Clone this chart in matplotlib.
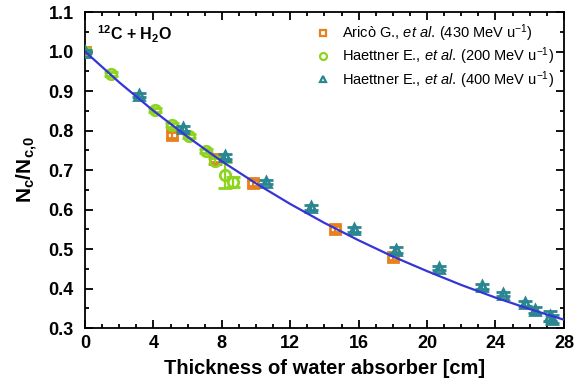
import matplotlib
matplotlib.use("Agg")
import matplotlib.pyplot as plt
from matplotlib.ticker import MultipleLocator
from matplotlib.lines import Line2D

plt.rcParams['font.family'] = ['Liberation Sans', 'DejaVu Sans']
plt.rcParams['mathtext.fontset'] = 'custom'
plt.rcParams['mathtext.rm'] = 'Liberation Sans'
plt.rcParams['mathtext.it'] = 'Liberation Sans:italic'
plt.rcParams['mathtext.bf'] = 'Liberation Sans:bold'

# Aricò G. et al. (430 MeV/u)
arico_x = [0.0, 5.1, 7.6, 9.8, 14.6, 18.0]
arico_y = [1.0, 0.789, 0.728, 0.667, 0.550, 0.480]
arico_err = [0.005, 0.008, 0.008, 0.008, 0.008, 0.008]

# Haettner E. et al. (200 MeV/u)
h200_x = [0.0, 1.5, 4.1, 5.1, 6.1, 7.1, 7.6, 8.2, 8.65]
h200_y = [1.0, 0.943, 0.852, 0.814, 0.787, 0.748, 0.722, 0.687, 0.670]
h200_err = [0.004, 0.005, 0.005, 0.005, 0.005, 0.006, 0.008, 0.033, 0.012]

# Haettner E. et al. (400 MeV/u)
h400_x = [0.0, 3.16, 5.7, 8.2, 10.6, 13.2, 15.7, 18.2, 20.7, 23.2, 24.45, 25.7, 26.3, 27.2, 27.3]
h400_y = [1.0, 0.890, 0.806, 0.735, 0.670, 0.606, 0.550, 0.497, 0.452, 0.406, 0.386, 0.363, 0.345, 0.330, 0.322]
h400_err = [0.004, 0.006, 0.006, 0.006, 0.006, 0.006, 0.006, 0.008, 0.006, 0.006, 0.006, 0.006, 0.008, 0.012, 0.010]

# fitted curve
fit_x = [0, 2, 4, 6, 8, 10, 12, 14, 16, 18, 20, 22, 24, 26, 28]
fit_y = [1.0, 0.922, 0.850, 0.784, 0.722, 0.666, 0.614, 0.566, 0.522, 0.481, 0.444, 0.409, 0.377, 0.348, 0.321]

labels = ['Aricò G., $\\it{et}$ $\\it{al.}\\,$(430 MeV u$^{-1}$)',
          'Haettner E., $\\it{et}$ $\\it{al.}\\,$(200 MeV u$^{-1}$)',
          'Haettner E., $\\it{et}$ $\\it{al.}\\,$(400 MeV u$^{-1}$)']

fig = plt.figure(figsize=(5.76, 3.88), dpi=100)
ax = fig.add_axes([0.1476, 0.1546, 0.8314, 0.8144])

c_or = '#E8801E'
c_gr = '#8CD41E'
c_te = '#2A8690'

ax.plot(fit_x, fit_y, color='#3535D5', lw=1.6, zorder=5)

ax.errorbar(arico_x, arico_y, yerr=arico_err, fmt='s', ms=6.5, mfc='none', mec=c_or,
            mew=2.0, ecolor=c_or, elinewidth=1.6, capsize=4, capthick=1.6, zorder=3)
ax.errorbar(h200_x, h200_y, yerr=h200_err, fmt='o', ms=7.5, mfc='none', mec=c_gr,
            mew=2.0, ecolor=c_gr, elinewidth=1.6, capsize=5, capthick=1.6, zorder=3)
ax.errorbar(h400_x, h400_y, yerr=h400_err, fmt='^', ms=7.5, mfc='none', mec=c_te,
            mew=2.0, ecolor=c_te, elinewidth=1.6, capsize=5, capthick=1.6, zorder=4)

ax.set_xlim(0, 28)
ax.set_ylim(0.3, 1.1)
ax.xaxis.set_major_locator(MultipleLocator(4))
ax.xaxis.set_minor_locator(MultipleLocator(1))
ax.yaxis.set_major_locator(MultipleLocator(0.1))
ax.yaxis.set_minor_locator(MultipleLocator(0.05))
ax.tick_params(which='both', direction='in', top=True, right=True, width=1.3)
ax.tick_params(which='major', length=6, labelsize=13)
ax.tick_params(axis='y', which='major', pad=8)
ax.tick_params(axis='x', which='major', pad=5)
ax.tick_params(which='minor', length=3)
for lab in ax.get_xticklabels() + ax.get_yticklabels():
    lab.set_fontweight('bold')
for sp in ax.spines.values():
    sp.set_linewidth(1.3)

ax.set_xlabel('Thickness of water absorber [cm]', fontsize=14.5, fontweight='bold', labelpad=5)
ax.set_ylabel('N$_\\mathbf{c}$/N$_\\mathbf{c{,}0}$', fontsize=15, fontweight='bold', labelpad=6)
ax.text(0.025, 0.93, '$^{\\mathbf{12}}$C + H$_\\mathbf{2}$O', transform=ax.transAxes,
        fontsize=11.5, fontweight='bold', va='center')

handles = [Line2D([], [], ls='none', marker='s', ms=4.5, mfc='none', mec=c_or, mew=1.6),
           Line2D([], [], ls='none', marker='o', ms=5, mfc='none', mec=c_gr, mew=1.6),
           Line2D([], [], ls='none', marker='^', ms=5, mfc='none', mec=c_te, mew=1.6)]
ax.legend(handles, labels, loc='upper right', frameon=False, fontsize=10.5,
          handlelength=1.0, handletextpad=0.8, borderaxespad=0.3, labelspacing=0.12)

fig.savefig('out.png', dpi=100)
